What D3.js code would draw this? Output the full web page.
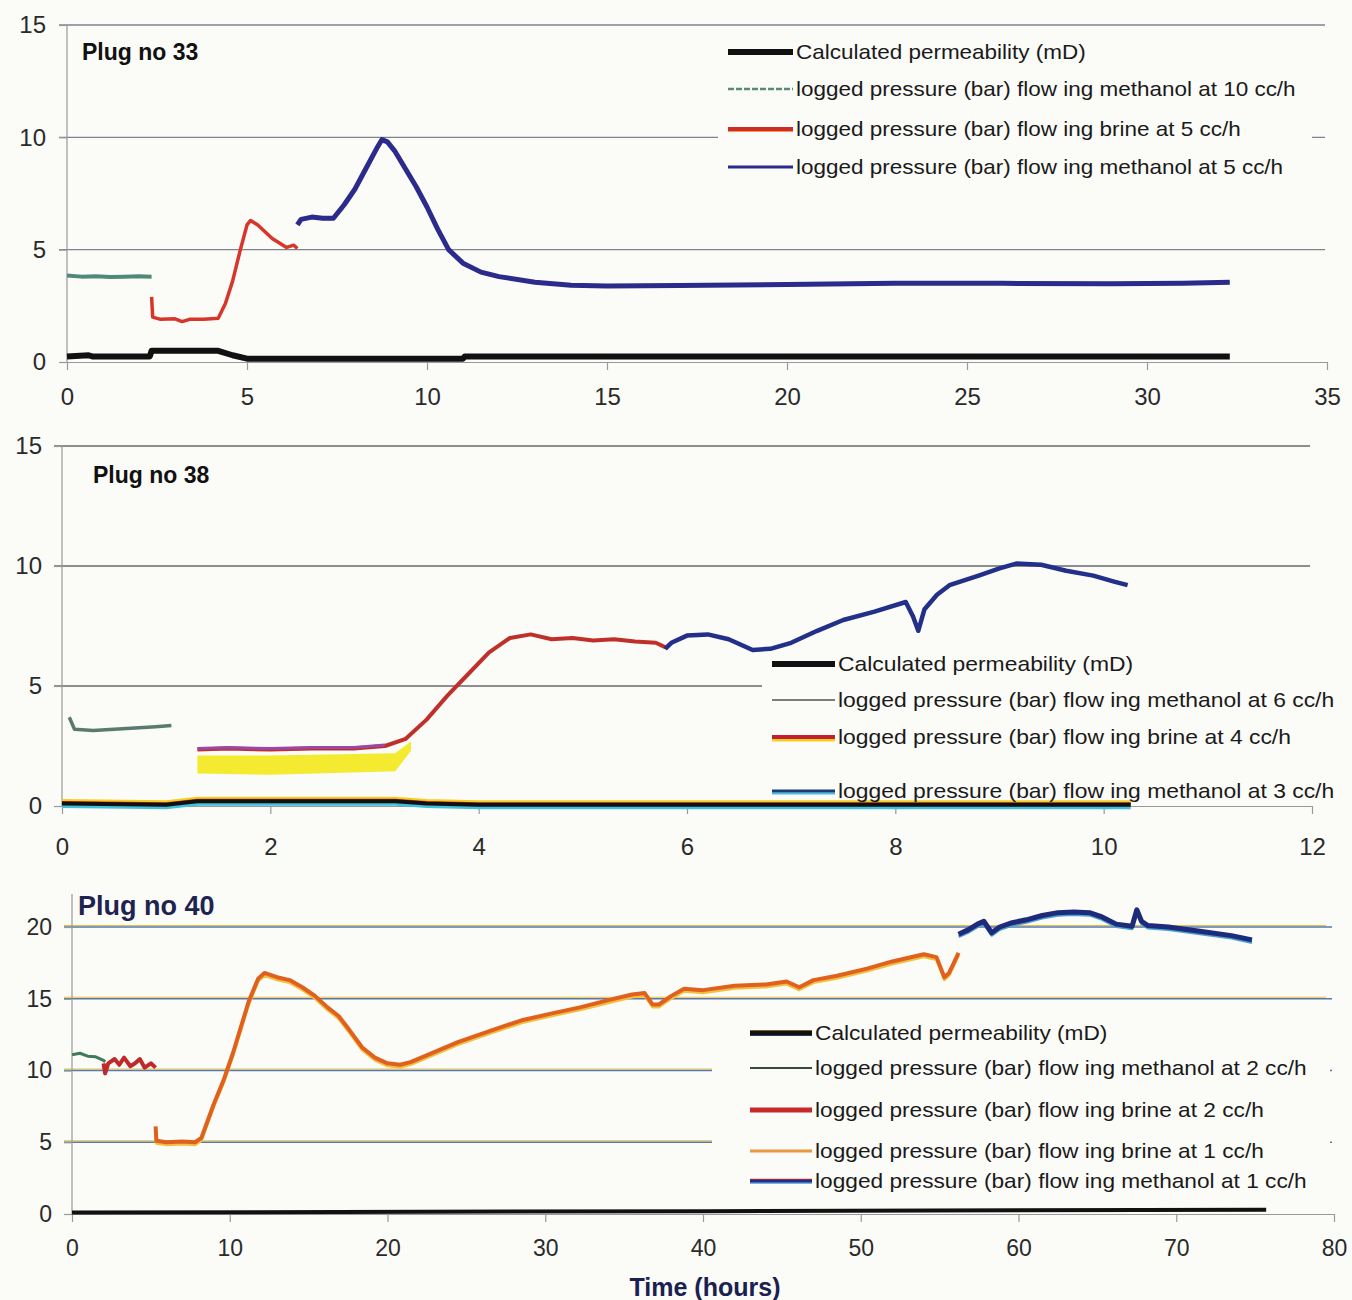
<!DOCTYPE html>
<html>
<head>
<meta charset="utf-8">
<script src="https://cdn.jsdelivr.net/npm/d3@7"></script>
<style>
  body { margin: 0; background: #fbfbf8; }
  svg { display: block; }
  text { font-family: "Liberation Sans", Arial, sans-serif; }
</style>
</head>
<body>
<svg id="chart" width="1352" height="1300"></svg>
<script>
// ---- Plug no 33 ----
const xTicks33 = [0, 5, 10, 15, 20, 25, 30, 35];
const yTicks33 = [0, 5, 10, 15];
const perm33 = [[0, 0.25], [0.6, 0.3], [0.7, 0.25], [2.3, 0.25], [2.35, 0.5], [4.2, 0.5], [4.6, 0.3], [5.0, 0.15], [11, 0.15], [11.05, 0.25], [32.3, 0.25]];
const meth10_33 = [[0, 3.85], [0.4, 3.8], [0.8, 3.82], [1.2, 3.78], [1.6, 3.8], [2.0, 3.82], [2.35, 3.8]];
const brine5_33 = [[2.35, 2.9], [2.38, 2.0], [2.6, 1.9], [3.0, 1.92], [3.2, 1.8], [3.4, 1.9], [3.8, 1.9], [4.2, 1.95], [4.4, 2.6], [4.6, 3.6], [4.8, 4.9], [5.0, 6.1], [5.1, 6.3], [5.3, 6.1], [5.5, 5.8], [5.7, 5.5], [5.9, 5.3], [6.1, 5.1], [6.3, 5.2], [6.4, 5.05]];
const meth5_33 = [[6.4, 6.1], [6.5, 6.35], [6.8, 6.45], [7.1, 6.4], [7.4, 6.4], [7.7, 7.0], [8.0, 7.7], [8.3, 8.6], [8.6, 9.5], [8.75, 9.9], [8.9, 9.8], [9.1, 9.4], [9.4, 8.6], [9.7, 7.8], [10.0, 6.9], [10.3, 5.9], [10.6, 5.0], [11.0, 4.4], [11.5, 4.0], [12, 3.8], [13, 3.55], [14, 3.42], [15, 3.38], [17, 3.4], [20, 3.45], [23, 3.5], [26, 3.5], [29, 3.48], [31, 3.5], [32.3, 3.55]];
const labels33 = [
  'Calculated permeability (mD)',
  'logged pressure (bar) flow ing methanol at 10 cc/h',
  'logged pressure (bar) flow ing brine at 5 cc/h',
  'logged pressure (bar) flow ing methanol at 5 cc/h'
];

// ---- Plug no 38 ----
const xTicks38 = [0, 2, 4, 6, 8, 10, 12];
const yTicks38 = [0, 5, 10, 15];
const perm38 = [[0, 0.1], [1.0, 0.05], [1.3, 0.2], [3.2, 0.2], [3.5, 0.1], [4.0, 0.05], [10.26, 0.05]];
const meth6_38 = [[0.07, 3.7], [0.12, 3.2], [0.3, 3.15], [0.5, 3.2], [0.7, 3.25], [0.9, 3.3], [1.05, 3.35]];
const brine4_38 = [[1.3, 2.35], [1.6, 2.4], [2.0, 2.35], [2.4, 2.4], [2.8, 2.4], [3.1, 2.5], [3.3, 2.8], [3.5, 3.6], [3.7, 4.6], [3.9, 5.5], [4.1, 6.4], [4.3, 7.0], [4.5, 7.15], [4.7, 6.95], [4.9, 7.0], [5.1, 6.9], [5.3, 6.95], [5.5, 6.85], [5.7, 6.8], [5.8, 6.6]];
const brine4Band38 = [[1.3, 1.35, 2.1], [2.0, 1.3, 2.1], [3.2, 1.45, 2.2], [3.35, 2.3, 2.7]];
const meth3_38 = [[5.79, 6.55], [5.85, 6.8], [6.0, 7.1], [6.2, 7.15], [6.4, 6.95], [6.63, 6.5], [6.8, 6.55], [7.0, 6.8], [7.25, 7.3], [7.5, 7.75], [7.8, 8.1], [8.1, 8.5], [8.17, 7.9], [8.22, 7.3], [8.28, 8.2], [8.4, 8.8], [8.52, 9.2], [8.8, 9.6], [9.0, 9.9], [9.16, 10.1], [9.4, 10.05], [9.64, 9.8], [9.9, 9.6], [10.1, 9.35], [10.23, 9.2]];
const labels38 = [
  'Calculated permeability (mD)',
  'logged pressure (bar) flow ing methanol at 6 cc/h',
  'logged pressure (bar) flow ing brine at 4 cc/h',
  'logged pressure (bar) flow ing methanol at 3 cc/h'
];

// ---- Plug no 40 ----
const xTicks40 = [0, 10, 20, 30, 40, 50, 60, 70, 80];
const yTicks40 = [0, 5, 10, 15, 20];
const perm40 = [[0, 0.1], [40, 0.2], [75.7, 0.3]];
const meth2_40 = [[0, 11.1], [0.5, 11.2], [1.0, 11.0], [1.5, 10.95], [2.0, 10.7], [2.1, 10.6]];
const brine2_40 = [[2.0, 10.5], [2.1, 9.8], [2.3, 10.5], [2.7, 10.8], [3.0, 10.4], [3.3, 10.9], [3.7, 10.3], [4.0, 10.5], [4.3, 10.8], [4.6, 10.2], [5.0, 10.5], [5.3, 10.2]];
const brine1_40 = [[5.3, 6.1], [5.35, 5.1], [6, 5.0], [7, 5.05], [7.8, 5.0], [8.2, 5.3], [8.6, 6.5], [9.0, 7.7], [9.6, 9.3], [10.2, 11.2], [10.7, 13.0], [11.2, 14.8], [11.8, 16.4], [12.2, 16.8], [13.0, 16.5], [13.8, 16.3], [14.6, 15.8], [15.4, 15.2], [16.2, 14.4], [16.9, 13.8], [17.6, 12.8], [18.4, 11.6], [19.2, 10.9], [20, 10.5], [20.8, 10.4], [21.5, 10.6], [23, 11.3], [24.5, 12.0], [26.6, 12.8], [28.5, 13.5], [30.5, 14.0], [32.2, 14.4], [34, 14.9], [35.5, 15.3], [36.3, 15.4], [36.8, 14.6], [37.2, 14.6], [38, 15.2], [38.8, 15.7], [40, 15.6], [42, 15.9], [44, 16.0], [45.3, 16.2], [46.1, 15.8], [47, 16.3], [48.5, 16.6], [50.4, 17.1], [52, 17.6], [54, 18.1], [54.8, 17.9], [55.3, 16.5], [55.6, 16.8], [56.2, 18.2]];
const meth1_40 = [[56.2, 19.5], [56.8, 19.8], [57.4, 20.2], [57.8, 20.4], [58.3, 19.6], [58.8, 20.0], [59.6, 20.3], [60.5, 20.5], [61.5, 20.8], [62.5, 21.0], [63.5, 21.05], [64.5, 21.0], [65.3, 20.7], [66.2, 20.2], [67.2, 20.05], [67.5, 21.2], [67.8, 20.4], [68.2, 20.1], [69.5, 20.0], [71.5, 19.7], [73.5, 19.4], [74.8, 19.1]];
const labels40 = [
  'Calculated permeability (mD)',
  'logged pressure (bar) flow ing methanol at 2 cc/h',
  'logged pressure (bar) flow ing brine at 2 cc/h',
  'logged pressure (bar) flow ing brine at 1 cc/h',
  'logged pressure (bar) flow ing methanol at 1 cc/h'
];

const svg = d3.select('#chart');

const panels = [
  {
    title: 'Plug no 33', titleAt: [82, 60], titleSize: 23, titleColor: '#111',
    xDomain: [0, 35], xRange: [67, 1327], yDomain: [0, 15], yRange: [362, 25], yTop: 15,
    xTicks: xTicks33, yTicks: yTicks33, grid: [5, 10, 15], gridColor: '#80838e',
    xPad: 18, yPad: 13, tickSize: 24,
    series: [
      { data: meth10_33, color: '#4f8a78', width: 4 },
      { data: brine5_33, color: '#d8362a', width: 3.5 },
      { data: meth5_33, color: '#2b2b8c', width: 5 },
      { data: perm33, color: '#111', width: 6 }
    ],
    legend: {
      box: [718, 34, 594, 152], lineX: [728, 793], textX: 796, rows: [52, 89, 129, 167], size: 21, stretch: 1.07,
      labels: labels33,
      styles: [
        { color: '#111', width: 6 },
        { color: '#5a8a7a', width: 2.5, dash: '6 2' },
        { color: '#d02a2a', width: 4, fringe: [{ color: '#f0a040', dy: 2, width: 2 }] },
        { color: '#2a2a90', width: 3 }
      ]
    }
  },
  {
    title: 'Plug no 38', titleAt: [93, 483], titleSize: 23, titleColor: '#111',
    xDomain: [0, 12], xRange: [62, 1312], yDomain: [0, 15], yRange: [806, 446], yTop: 15,
    xTicks: xTicks38, yTicks: yTicks38, grid: [5, 10, 15], gridColor: '#6a6a6e',
    xPad: 24, yPad: 12, tickSize: 24,
    series: [
      { data: meth6_38, color: '#5a7a70', width: 3.5 },
      { data: brine4_38, color: '#c0302a', width: 4 },
      { data: meth3_38, color: '#23308a', width: 4.5 },
      { data: perm38, color: '#111', width: 4,
        fringe: [{ color: '#f2d020', dy: -3, width: 3 }, { color: '#d83030', dy: -1.5, width: 2 }, { color: '#40c0e0', dy: 3, width: 3 }] }
    ],
    band: { data: brine4Band38, color: '#f4ea30' },
    overlay: { source: 1, maxX: 3.1, color: '#9a48a8', width: 3, dy: -1 },
    legend: {
      box: [762, 656, 580, 108], lineX: [772, 835], textX: 838, rows: [664, 700, 737, 791], size: 21, stretch: 1.09,
      labels: labels38,
      styles: [
        { color: '#111', width: 6 },
        { color: '#7a8078', width: 2 },
        { color: '#c02030', width: 4, fringe: [{ color: '#f2d020', dy: 3, width: 3 }] },
        { color: '#1a3a7a', width: 3, fringe: [{ color: '#40c0e0', dy: 2.5, width: 2 }] }
      ]
    }
  },
  {
    title: 'Plug no 40', titleAt: [78, 915], titleSize: 27, titleColor: '#1e2450',
    xDomain: [0, 80], xRange: [72, 1334], yDomain: [0, 20], yRange: [1214, 927], yTop: 22.3,
    xTicks: xTicks40, yTicks: yTicks40, grid: [5, 10, 15, 20], gridColor: '#5a78a8',
    gridFringe: '#e8c040',
    xPad: 18, yPad: 12, tickSize: 23,
    series: [
      { data: meth2_40, color: '#3f7a5a', width: 3 },
      { data: brine2_40, color: '#c0282a', width: 4 },
      { data: brine1_40, color: '#e0601e', width: 4, fringe: [{ color: '#f2c040', dy: 2.5, width: 3 }] },
      { data: meth1_40, color: '#1e2a7a', width: 5, fringe: [{ color: '#4aa0d0', dy: 2.5, width: 3 }] },
      { data: perm40, color: '#111', width: 4 }
    ],
    legend: {
      box: [712, 1015, 618, 185], lineX: [750, 812], textX: 815, rows: [1033, 1068, 1110, 1151, 1181], size: 21, stretch: 1.08,
      labels: labels40,
      styles: [
        { color: '#111', width: 5, fringe: [{ color: '#e8b030', dy: -2, width: 2 }, { color: '#3a6ab0', dy: 2, width: 2 }] },
        { color: '#3a4a3a', width: 2 },
        { color: '#c82a2a', width: 5 },
        { color: '#e89a40', width: 3 },
        { color: '#2a2a80', width: 3, fringe: [{ color: '#d03030', dy: -1.5, width: 1.5 }, { color: '#40a0e0', dy: 2, width: 1.5 }] }
      ]
    }
  }
];

function strokePath(g, d, color, width, dy, dash) {
  g.append('path')
    .attr('d', d)
    .attr('transform', 'translate(0,' + (dy || 0) + ')')
    .attr('fill', 'none')
    .attr('stroke', color)
    .attr('stroke-width', width)
    .attr('stroke-linejoin', 'round')
    .attr('stroke-dasharray', dash || null);
}

function drawPanel(p) {
  const x = d3.scaleLinear().domain(p.xDomain).range(p.xRange);
  const y = d3.scaleLinear().domain(p.yDomain).range(p.yRange);
  const g = svg.append('g');

  // horizontal gridlines
  if (p.gridFringe) {
    g.selectAll('line.gridf').data(p.grid).enter().append('line')
      .attr('x1', x(0) - 8).attr('x2', x.range()[1] - 8)
      .attr('y1', d => y(d) - 1.5).attr('y2', d => y(d) - 1.5)
      .attr('stroke', p.gridFringe).attr('stroke-width', 1.2);
  }
  g.selectAll('line.grid').data(p.grid).enter().append('line')
    .attr('x1', x(0) - 8).attr('x2', x.range()[1] - 2)
    .attr('y1', d => y(d)).attr('y2', d => y(d))
    .attr('stroke', p.gridColor).attr('stroke-width', 1.3);

  // axes
  const xAxis = d3.axisBottom(x).tickValues(p.xTicks).tickSize(8).tickSizeOuter(0).tickPadding(p.xPad);
  const gx = g.append('g').attr('transform', 'translate(0,' + y(0) + ')').call(xAxis);
  const yAxis = d3.axisLeft(y).tickValues(p.yTicks).tickSize(8).tickSizeOuter(0).tickPadding(p.yPad);
  const gy = g.append('g').attr('transform', 'translate(' + x(0) + ',0)').call(yAxis);
  gy.select('.domain').remove();
  g.append('line')
    .attr('x1', x(0)).attr('x2', x(0))
    .attr('y1', y(0)).attr('y2', y(p.yTop))
    .attr('stroke', '#999').attr('stroke-width', 1.2);
  [gx, gy].forEach(a => {
    a.selectAll('.domain, .tick line').attr('stroke', '#999').attr('stroke-width', 1.2);
    a.selectAll('.tick text')
      .attr('fill', '#2a2a2a')
      .style('font-size', p.tickSize + 'px');
  });

  const line = d3.line().x(d => x(d[0])).y(d => y(d[1]));

  if (p.band) {
    const area = d3.area().x(d => x(d[0])).y0(d => y(d[1])).y1(d => y(d[2]));
    g.append('path').attr('d', area(p.band.data)).attr('fill', p.band.color);
  }

  p.series.forEach(s => {
    (s.fringe || []).forEach(f => strokePath(g, line(s.data), f.color, f.width, f.dy));
    strokePath(g, line(s.data), s.color, s.width);
  });

  if (p.overlay) {
    const src = p.series[p.overlay.source].data.filter(d => d[0] <= p.overlay.maxX);
    strokePath(g, line(src), p.overlay.color, p.overlay.width, p.overlay.dy);
  }

  // title
  g.append('text')
    .attr('x', p.titleAt[0]).attr('y', p.titleAt[1])
    .attr('font-weight', 'bold')
    .attr('font-size', p.titleSize)
    .attr('fill', p.titleColor)
    .text(p.title);

  // legend
  const L = p.legend;
  g.append('rect')
    .attr('x', L.box[0]).attr('y', L.box[1])
    .attr('width', L.box[2]).attr('height', L.box[3])
    .attr('fill', '#fbfbf8');
  L.labels.forEach((label, i) => {
    const st = L.styles[i];
    const yy = L.rows[i];
    const d = 'M' + L.lineX[0] + ',' + yy + 'H' + L.lineX[1];
    (st.fringe || []).forEach(f => strokePath(g, d, f.color, f.width, f.dy));
    strokePath(g, d, st.color, st.width, 0, st.dash);
    const t = g.append('text')
      .attr('x', L.textX).attr('y', yy)
      .attr('dy', '0.35em')
      .attr('font-size', L.size)
      .attr('fill', '#1a1a1a')
      .text(label);
    // the printed legend is a touch wider than the font; stretch to match
    const w = t.node().getComputedTextLength();
    t.attr('textLength', w * L.stretch).attr('lengthAdjust', 'spacingAndGlyphs');
  });
}

panels.forEach(drawPanel);

// shared x-axis title
svg.append('text')
  .attr('x', 705).attr('y', 1296)
  .attr('text-anchor', 'middle')
  .attr('font-weight', 'bold')
  .attr('font-size', 25)
  .attr('fill', '#1a2050')
  .text('Time (hours)');
</script>
</body>
</html>
